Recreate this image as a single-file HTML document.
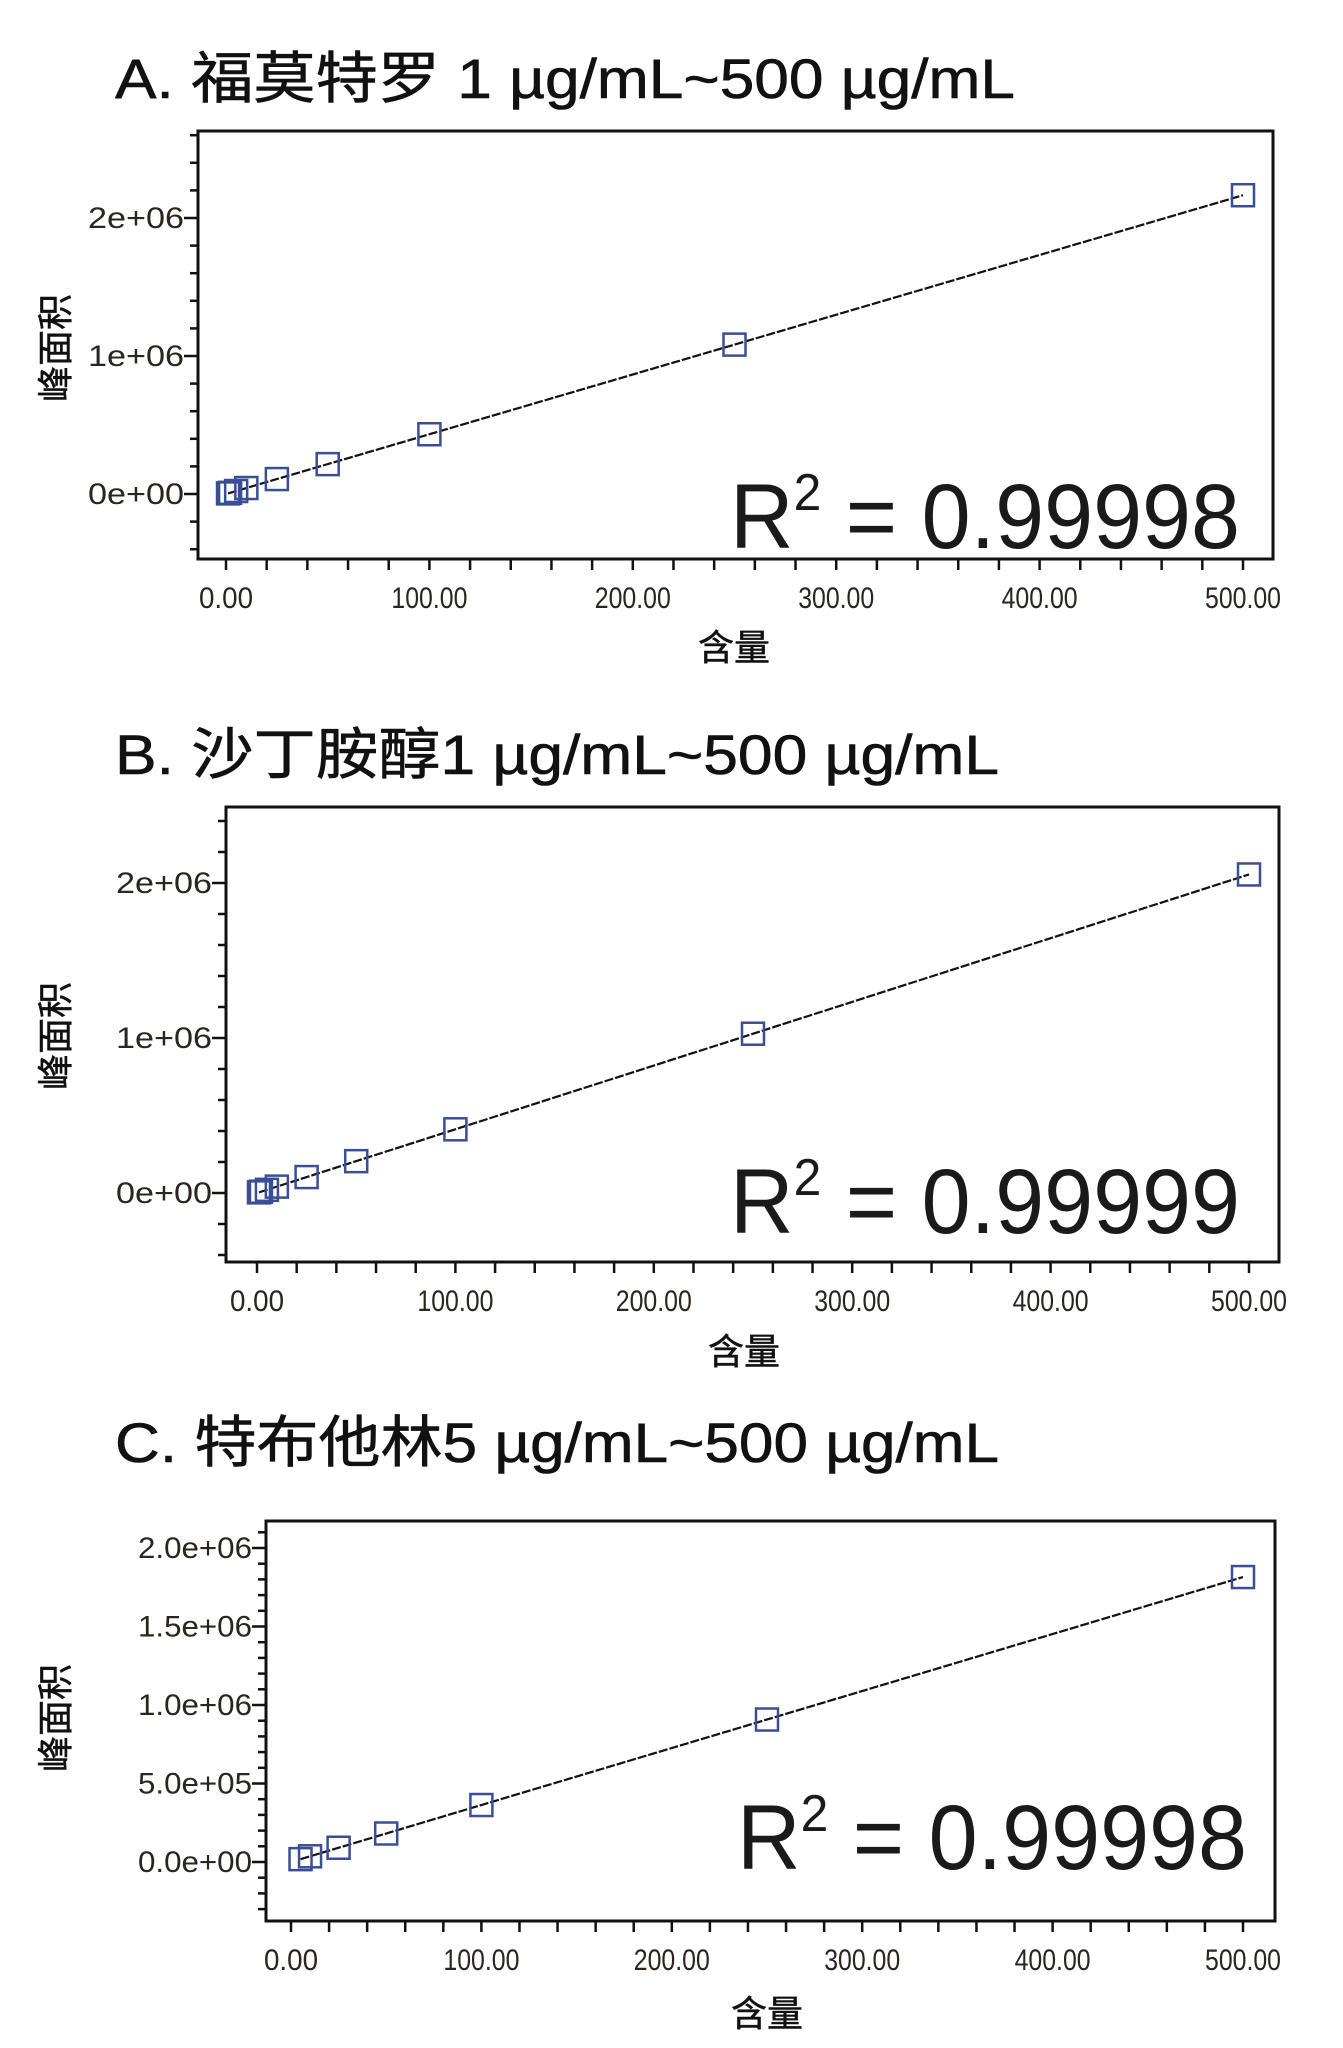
<!DOCTYPE html>
<html><head><meta charset="utf-8">
<style>
html,body{margin:0;padding:0;background:#fff;}
svg{display:block;}
</style></head>
<body>
<svg id="s" width="1343" height="2048" xmlns="http://www.w3.org/2000/svg" font-family="Liberation Sans, Noto Sans CJK SC, sans-serif"></svg>
<script>
var S=document.getElementById('s'),h='';
function panel(o){
  var L=o.L,R=o.R,T=o.T,B=o.B;
  var xs=function(v){return o.x0+(o.x500-o.x0)*v/500;};
  var ys=function(v){return o.y0-(v/o.ystep)*o.ypx;};
  h+='<text x="115" y="'+o.ty+'" font-size="56" textLength="'+o.tw+'" lengthAdjust="spacingAndGlyphs" fill="#111" stroke="#111" stroke-width="0.6">'+o.title+'</text>';
  for(var v=o.ymin;v<=o.ymax+1e-6;v+=o.yminor){
    var y=ys(v);if(y<T+2||y>B-2)continue;
    var isMaj=Math.abs(v/o.ystep-Math.round(v/o.ystep))<1e-6;
    h+='<line x1="'+(L-(isMaj?14:8))+'" y1="'+y+'" x2="'+L+'" y2="'+y+'" stroke="#111" stroke-width="2.5"/>';
    if(isMaj){h+='<text x="'+(L-14)+'" y="'+(y+10)+'" font-size="30" text-anchor="end" fill="#2b2520" textLength="'+o.lw+'" lengthAdjust="spacingAndGlyphs">'+o.lab(Math.round(v/o.ystep))+'</text>';}
  }
  for(var x=0;x<=500;x+=20){
    var px=xs(x);var maj=x%100==0;
    h+='<line x1="'+px+'" y1="'+B+'" x2="'+px+'" y2="'+(B+11)+'" stroke="#111" stroke-width="2.5"/>';
    if(maj)h+='<text x="'+px+'" y="'+(B+49)+'" font-size="30" text-anchor="middle" fill="#2b2520" textLength="'+(x==0?54:76)+'" lengthAdjust="spacingAndGlyphs">'+x.toFixed(2)+'</text>';
  }
  h+='<rect x="'+L+'" y="'+T+'" width="'+(R-L)+'" height="'+(B-T)+'" fill="none" stroke="#111" stroke-width="3"/>';
  h+='<line x1="'+xs(o.pts[0])+'" y1="'+ys(o.pts[0]*o.k)+'" x2="'+xs(500)+'" y2="'+ys(500*o.k)+'" stroke="#111" stroke-width="2.2" stroke-dasharray="9,2"/>';
  o.pts.forEach(function(p){var cx=xs(p),cy=ys(p*o.k);
    h+='<rect x="'+(cx-11)+'" y="'+(cy-11)+'" width="22" height="22" fill="none" stroke="#3a4e96" stroke-width="2.5"/>';});
  h+='<text x="'+o.rx+'" y="'+o.ry+'" font-size="92" fill="#1a1a1a" textLength="'+o.rw+'" lengthAdjust="spacingAndGlyphs">R<tspan dy="-38" font-size="52">2</tspan><tspan dy="38"> = '+o.r2+'</tspan></text>';
  h+='<text x="'+o.xtx+'" y="'+(o.xty+13)+'" font-size="36" text-anchor="middle" fill="#111" stroke="#111" stroke-width="0.5">含量</text>';
  h+='<text transform="translate(68,'+o.yty+') rotate(-90)" font-size="36" text-anchor="middle" fill="#111" stroke="#111" stroke-width="0.5">峰面积</text>';
}
panel({title:'A. 福莫特罗 1 µg/mL~500 µg/mL',ty:98,tw:900,L:198,R:1273,T:131,B:559,x0:226,x500:1243,y0:494,ypx:138,ystep:1e6,ymin:-0.4e6,ymax:2.6e6,yminor:0.2e6,lw:96,
 lab:function(n){return n+(n==0?'e+00':'e+06');},pts:[1,2,5,10,25,50,100,250,500],k:4330,rx:730,ry:548,rw:510,r2:'0.99998',xtx:734,xty:647,yty:348});
panel({title:'B. 沙丁胺醇1 µg/mL~500 µg/mL',ty:774,tw:884,L:226,R:1279,T:807,B:1262,x0:257,x500:1249,y0:1193,ypx:155,ystep:1e6,ymin:-0.4e6,ymax:2.6e6,yminor:0.2e6,lw:96,
 lab:function(n){return n+(n==0?'e+00':'e+06');},pts:[1,2,5,10,25,50,100,250,500],k:4110,rx:730,ry:1233,rw:510,r2:'0.99999',xtx:744,xty:1351,yty:1036});
panel({title:'C. 特布他林5 µg/mL~500 µg/mL',ty:1462,tw:884,L:266,R:1275,T:1521,B:1921,x0:291,x500:1243,y0:1862,ypx:78.5,ystep:0.5e6,ymin:-0.3e6,ymax:2.2e6,yminor:0.1e6,lw:114,
 lab:function(n){return ['0.0e+00','5.0e+05','1.0e+06','1.5e+06','2.0e+06'][n];},pts:[5,10,25,50,100,250,500],k:3630,rx:737,ry:1869,rw:510,r2:'0.99998',xtx:767,xty:2013,yty:1718});
S.innerHTML=h;
</script>
</body></html>
